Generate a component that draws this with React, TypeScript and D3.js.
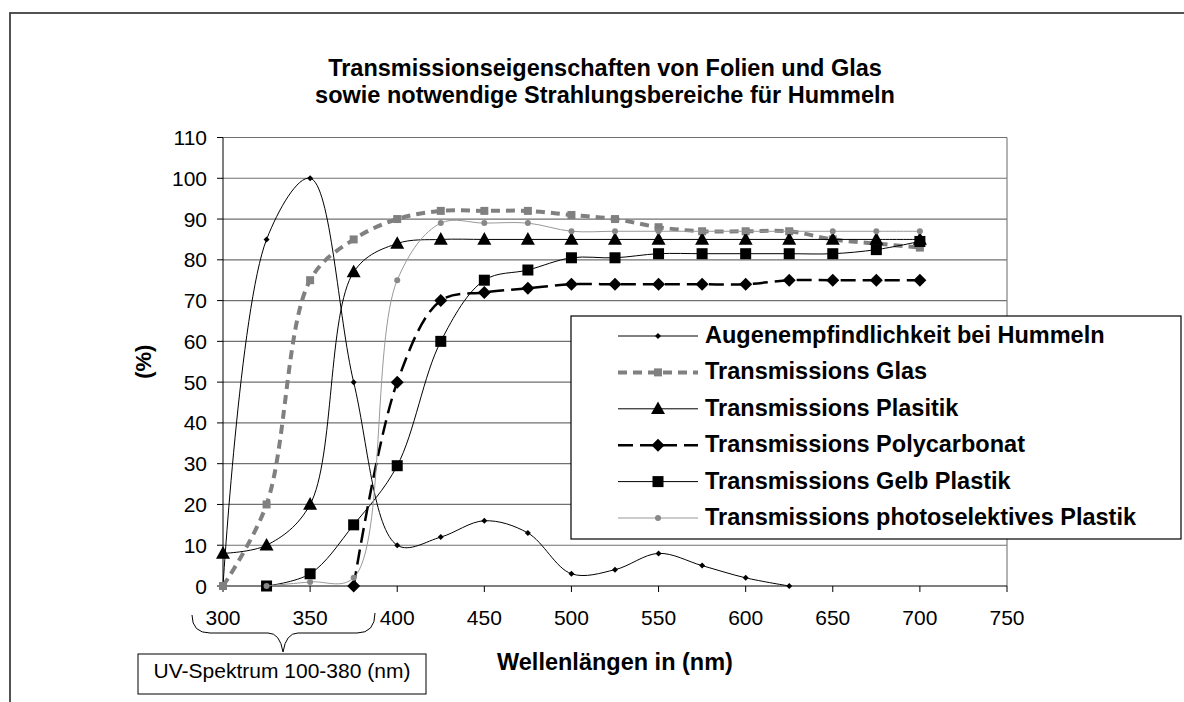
import React from 'react';
import * as d3 from 'd3';

// wavelengths (nm) at which every series was measured
const wavelengths = [300, 325, 350, 375, 400, 425, 450, 475, 500, 525, 550, 575, 600, 625, 650, 675, 700];

// series values in %, null where a series has no point
const augen = [0, 85, 100, 50, 10, 12, 16, 13, 3, 4, 8, 5, 2, 0, null, null, null];
const glas = [0, 20, 75, 85, 90, 92, 92, 92, 91, 90, 88, 87, 87, 87, 85, 84, 83];
const plastik = [8, 10, 20, 77, 84, 85, 85, 85, 85, 85, 85, 85, 85, 85, 85, 85, 85];
const polycarbonat = [null, null, null, 0, 50, 70, 72, 73, 74, 74, 74, 74, 74, 75, 75, 75, 75];
const gelb = [null, 0, 3, 15, 29.5, 60, 75, 77.5, 80.5, 80.5, 81.5, 81.5, 81.5, 81.5, 81.5, 82.5, 84.5];
const photo = [null, 0, 1, 2, 75, 89, 89, 89, 87, 87, 87, 87, 87, 87, 87, 87, 87];

const seriesNames = [
  'Augenempfindlichkeit bei Hummeln',
  'Transmissions Glas',
  'Transmissions Plasitik',
  'Transmissions Polycarbonat',
  'Transmissions Gelb Plastik',
  'Transmissions photoselektives Plastik',
];

const xTicks = [300, 350, 400, 450, 500, 550, 600, 650, 700, 750];
const yTicks = [0, 10, 20, 30, 40, 50, 60, 70, 80, 90, 100, 110];

const FONT = '"Liberation Sans", Arial, sans-serif';

type Marker = 'smallDiamond' | 'square' | 'triangle' | 'diamond' | 'circle';

interface Series {
  name: string;
  values: (number | null)[];
  stroke: string;
  width: number;
  dash?: string;
  marker: Marker;
  size: number;
  fill: string;
}

const series: Series[] = [
  { name: seriesNames[0], values: augen, stroke: '#000', width: 1, marker: 'smallDiamond', size: 3, fill: '#000' },
  { name: seriesNames[1], values: glas, stroke: '#808080', width: 4, dash: '9,6', marker: 'square', size: 4, fill: '#808080' },
  { name: seriesNames[2], values: plastik, stroke: '#000', width: 1, marker: 'triangle', size: 7, fill: '#000' },
  { name: seriesNames[3], values: polycarbonat, stroke: '#000', width: 2.5, dash: '15,7', marker: 'diamond', size: 6.5, fill: '#000' },
  { name: seriesNames[4], values: gelb, stroke: '#000', width: 1, marker: 'square', size: 5.5, fill: '#000' },
  { name: seriesNames[5], values: photo, stroke: '#999', width: 1, marker: 'circle', size: 3, fill: '#888' },
];

function MarkerShape({ type, cx, cy, s, fill }: { type: Marker; cx: number; cy: number; s: number; fill: string }) {
  if (type === 'square') return <rect x={cx - s} y={cy - s} width={2 * s} height={2 * s} fill={fill} />;
  if (type === 'circle') return <circle cx={cx} cy={cy} r={s} fill={fill} />;
  if (type === 'triangle')
    return <path d={`M${cx},${cy - s * 1.05}L${cx + s},${cy + s * 0.75}L${cx - s},${cy + s * 0.75}Z`} fill={fill} />;
  return <path d={`M${cx},${cy - s}L${cx + s},${cy}L${cx},${cy + s}L${cx - s},${cy}Z`} fill={fill} />;
}

export default function App() {
  const x = d3.scaleLinear().domain([300, 750]).range([223, 1007]);
  const y = d3.scaleLinear().domain([0, 110]).range([586, 137.5]);

  // smoothed lines like the spreadsheet's "smooth line" option
  const line = d3
    .line<number | null>()
    .defined((d) => d != null)
    .x((_, i) => x(wavelengths[i]))
    .y((d) => y(d as number))
    .curve(d3.curveCatmullRom.alpha(0.5));

  const legendX = 571;
  const legendTop = 316;
  const rowBase = 343;
  const rowStep = 36.4;

  return (
    <div style={{ position: 'absolute', left: 0, top: 0 }}>
      <svg width={1184} height={702} style={{ display: 'block', background: '#fff' }} fontFamily={FONT}>
        {/* chart frame */}
        <rect x={10} y={13} width={1220} height={800} fill="#fff" stroke="#404040" strokeWidth={1.8} />

        {/* title */}
        <text x={605} y={76} textAnchor="middle" fontSize={23.5} fontWeight="bold">
          Transmissionseigenschaften von Folien und Glas
        </text>
        <text x={605} y={103} textAnchor="middle" fontSize={23.5} fontWeight="bold">
          sowie notwendige Strahlungsbereiche für Hummeln
        </text>

        {/* gridlines */}
        {yTicks.slice(1).map((t) => (
          <line key={t} x1={x(300)} x2={x(750)} y1={y(t)} y2={y(t)} stroke="#707070" strokeWidth={1.2} />
        ))}
        <line x1={x(750)} x2={x(750)} y1={y(110)} y2={y(0)} stroke="#808080" strokeWidth={1.2} />

        {/* y axis */}
        <line x1={x(300)} x2={x(300)} y1={y(110)} y2={y(0)} stroke="#000" />
        {yTicks.map((t) => (
          <g key={t}>
            <line x1={x(300) - 6} x2={x(300)} y1={y(t)} y2={y(t)} stroke="#000" />
            <text x={207} y={y(t) + 7.5} textAnchor="end" fontSize={21}>
              {t}
            </text>
          </g>
        ))}

        {/* x axis */}
        <line x1={x(300)} x2={x(750)} y1={y(0)} y2={y(0)} stroke="#000" />
        {xTicks.map((t) => (
          <g key={t}>
            <line x1={x(t)} x2={x(t)} y1={y(0)} y2={y(0) + 6} stroke="#000" />
            <text x={x(t)} y={625} textAnchor="middle" fontSize={21}>
              {t}
            </text>
          </g>
        ))}

        {/* axis titles */}
        <text x={(x(300) + x(750)) / 2} y={670} textAnchor="middle" fontSize={23.5} fontWeight="bold">
          Wellenlängen in (nm)
        </text>
        <text
          transform={`translate(143,${(y(0) + y(110)) / 2}) rotate(-90)`}
          textAnchor="middle"
          dominantBaseline="central"
          fontSize={22}
          fontWeight="bold"
        >
          (%)
        </text>

        {/* series */}
        {series.map((s) => (
          <g key={s.name}>
            <path
              d={line(s.values) ?? ''}
              fill="none"
              stroke={s.stroke}
              strokeWidth={s.width}
              strokeDasharray={s.dash}
            />
            {s.values.map((v, i) =>
              v == null ? null : (
                <MarkerShape key={i} type={s.marker} cx={x(wavelengths[i])} cy={y(v)} s={s.size} fill={s.fill} />
              )
            )}
          </g>
        ))}

        {/* legend */}
        <rect x={legendX} y={legendTop} width={610} height={223} fill="#fff" stroke="#000" strokeWidth={1.2} />
        {series.map((s, i) => {
          const by = rowBase + i * rowStep;
          const ly = by - 7;
          return (
            <g key={s.name}>
              <line x1={618} x2={698} y1={ly} y2={ly} stroke={s.stroke} strokeWidth={s.width} strokeDasharray={s.dash} />
              <MarkerShape type={s.marker} cx={658} cy={ly} s={s.size} fill={s.fill} />
              <text x={705} y={by} fontSize={23.5} fontWeight="bold">
                {s.name}
              </text>
            </g>
          );
        })}

        {/* UV range brace */}
        <path
          d="M192,615 Q192,633 210,633 L268,633 Q280,633 283,652 Q286,633 298,633 L357,633 Q375,633 375,613"
          fill="none"
          stroke="#000"
          strokeWidth={1}
        />
        <rect x={138} y={654} width={288} height={40} fill="#fff" stroke="#000" strokeWidth={1} />
        <text x={282} y={678} textAnchor="middle" fontSize={21}>
          UV-Spektrum 100-380 (nm)
        </text>
      </svg>
    </div>
  );
}
